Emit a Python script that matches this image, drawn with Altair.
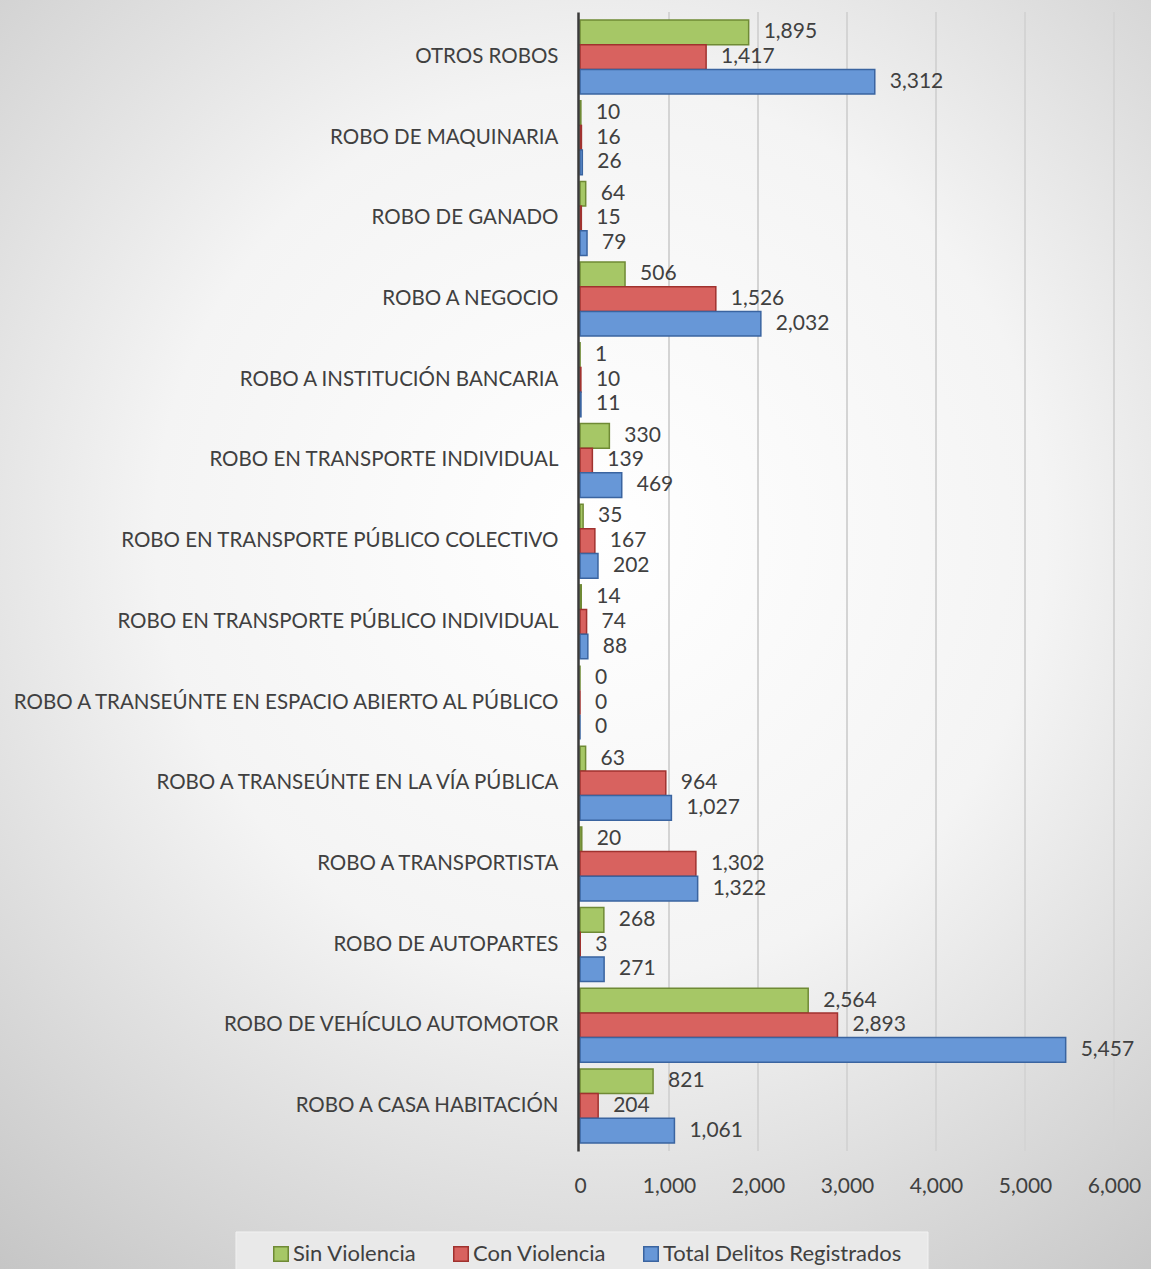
import altair as alt
import pandas as pd

categories = [
    "OTROS ROBOS",
    "ROBO DE MAQUINARIA",
    "ROBO DE GANADO",
    "ROBO A NEGOCIO",
    "ROBO A INSTITUCIÓN BANCARIA",
    "ROBO EN TRANSPORTE INDIVIDUAL",
    "ROBO EN TRANSPORTE PÚBLICO COLECTIVO",
    "ROBO EN TRANSPORTE PÚBLICO INDIVIDUAL",
    "ROBO A TRANSEÚNTE EN ESPACIO ABIERTO AL PÚBLICO",
    "ROBO A TRANSEÚNTE EN LA VÍA PÚBLICA",
    "ROBO A TRANSPORTISTA",
    "ROBO DE AUTOPARTES",
    "ROBO DE VEHÍCULO AUTOMOTOR",
    "ROBO A CASA HABITACIÓN",
]
sin_violencia = [1895, 10, 64, 506, 1, 330, 35, 14, 0, 63, 20, 268, 2564, 821]
con_violencia = [1417, 16, 15, 1526, 10, 139, 167, 74, 0, 964, 1302, 3, 2893, 204]
total_delitos = [3312, 26, 79, 2032, 11, 469, 202, 88, 0, 1027, 1322, 271, 5457, 1061]
series = ["Sin Violencia", "Con Violencia", "Total Delitos Registrados"]
x_ticks = [0, 1000, 2000, 3000, 4000, 5000, 6000]

fills = ["#a6c766", "#d8625f", "#6797d7"]
strokes = ["#6f8a35", "#a0322f", "#3a64a0"]

rows = []
for s, vals in zip(series, [sin_violencia, con_violencia, total_delitos]):
    for c, v in zip(categories, vals):
        rows.append({"categoria": c, "serie": s, "valor": v})
df = pd.DataFrame(rows)
grid_df = pd.DataFrame({"valor": x_ticks[1:]})

FONT = "Lato"
TXT = "#404040"
W, H = 534, 1139

x_scale = alt.Scale(domain=[0, 6000], nice=False)

y_enc = alt.Y(
    "categoria:N",
    sort=categories,
    title=None,
    scale=alt.Scale(paddingInner=0.083, paddingOuter=0.1),
    axis=alt.Axis(
        labelFontSize=20.5,
        labelFont=FONT,
        labelColor=TXT,
        labelPadding=20,
        labelLimit=0,
        ticks=False,
        domainColor="#3a3a3a",
        domainWidth=2.5,
        offset=2,
        grid=False,
        zindex=1,
    ),
)
yoff = alt.YOffset("serie:N", sort=series, scale=alt.Scale(domain=series, paddingInner=0, paddingOuter=0))
x_enc = alt.X(
    "valor:Q",
    title=None,
    scale=x_scale,
    axis=alt.Axis(
        values=x_ticks,
        format=",d",
        labelFontSize=21,
        labelFont=FONT,
        labelColor=TXT,
        labelPadding=24,
        labelFlush=False,
        labelOverlap=False,
        ticks=False,
        domain=False,
        grid=False,
        zindex=1,
    ),
)

bg = alt.Chart(alt.Data(values=[{}])).mark_rect(
    fill={
        "gradient": "radial",
        "x1": 0.52, "y1": 0.42, "r1": 0.0,
        "x2": 0.52, "y2": 0.42, "r2": 0.78,
        "stops": [
            {"offset": 0.0, "color": "#ffffff"},
            {"offset": 0.45, "color": "#f4f4f4"},
            {"offset": 1.0, "color": "#c2c2c2"},
        ],
    },
    clip=False,
).encode(
    x=alt.value(-580), x2=alt.value(571), y=alt.value(-12), y2=alt.value(1257)
)

legend_box = alt.Chart(alt.Data(values=[{}])).mark_rect(
    fill="#e9e9e9", stroke="#f2f2f2", strokeWidth=1, clip=False
).encode(
    x=alt.value(-344), x2=alt.value(348), y=alt.value(1220), y2=alt.value(1262)
)

grid = alt.Chart(grid_df).mark_rule(color="#d4d4d4", strokeWidth=2).encode(
    x=alt.X("valor:Q", scale=x_scale),
    y=alt.value(0),
    y2=alt.value(H),
)

bars = alt.Chart(df).mark_bar(strokeWidth=1.5, clip=False).encode(
    y=y_enc,
    yOffset=yoff,
    x=x_enc,
    fill=alt.Fill(
        "serie:N",
        sort=series,
        scale=alt.Scale(domain=series, range=fills),
        legend=alt.Legend(
            title=None,
            orient="none",
            legendX=-310,
            legendY=1231,
            direction="horizontal",
            symbolType="square",
            symbolSize=210,
            symbolStrokeWidth=1.5,
            labelFontSize=22,
            labelFont=FONT,
            labelColor=TXT,
            labelOffset=1,
            labelLimit=0,
            columnPadding=33,
            padding=0,
        ),
    ),
    stroke=alt.Stroke(
        "serie:N",
        sort=series,
        scale=alt.Scale(domain=series, range=strokes),
        legend=None,
    ),
)

labels = alt.Chart(df).mark_text(
    align="left", baseline="middle", dx=15, fontSize=21, font=FONT, color=TXT
).encode(
    y=alt.Y("categoria:N", sort=categories),
    yOffset=alt.YOffset("serie:N", sort=series),
    x="valor:Q",
    text=alt.Text("valor:Q", format=",d"),
)

chart = (
    alt.layer(bg, legend_box, grid, bars, labels)
    .properties(
        width=W,
        height=H,
        autosize=alt.AutoSizeParams(type="none"),
        padding={"left": 580, "top": 12, "right": 37, "bottom": 118},
        background="#d8d8d8",
    )
    .configure_view(stroke=None)
)

chart.save("out.html", embed_options={"renderer": "svg", "actions": False})
